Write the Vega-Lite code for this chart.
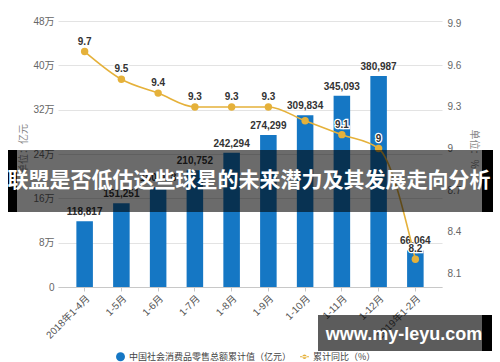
{
  "$schema": "https://vega.github.io/schema/vega-lite/v6.json",
  "autosize": {"type": "none"},
  "width": 384,
  "height": 277,
  "padding": {"left": 58, "top": 10, "right": 58, "bottom": 75},
  "background": "white",
  "config": {
    "view": {"stroke": null},
    "font": "Liberation Sans, Noto Sans CJK SC",
    "axis": {"labelFont": "Liberation Sans, Noto Sans CJK SC", "titleFont": "Noto Sans CJK SC"}
  },
  "data": {
    "values": [
      {"period": "2018年1-4月", "total": 118817, "rate": 9.7},
      {"period": "1-5月", "total": 151251, "rate": 9.5},
      {"period": "1-6月", "total": 180018, "rate": 9.4},
      {"period": "1-7月", "total": 210752, "rate": 9.3},
      {"period": "1-8月", "total": 242294, "rate": 9.3},
      {"period": "1-9月", "total": 274299, "rate": 9.3},
      {"period": "1-10月", "total": 309834, "rate": 9.2},
      {"period": "1-11月", "total": 345093, "rate": 9.1},
      {"period": "1-12月", "total": 380987, "rate": 9.0},
      {"period": "2019年1-2月", "total": 66064, "rate": 8.2}
    ]
  },
  "encoding": {
    "x": {
      "field": "period", "type": "nominal", "sort": null,
      "scale": {"paddingInner": 0.55, "paddingOuter": 0.5},
      "axis": {
        "title": null, "labelAngle": -45, "labelFontSize": 10, "labelColor": "#555",
        "domainColor": "#c8c8c8", "tickColor": "#c8c8c8", "tickSize": 4, "labelPadding": 2
      }
    }
  },
  "layer": [
    {
      "layer": [
        {
          "mark": {"type": "bar", "color": "#1577C4"},
          "encoding": {
            "y": {
              "field": "total", "type": "quantitative",
              "scale": {"domain": [0, 480000]},
              "axis": {
                "values": [0, 80000, 160000, 240000, 320000, 400000, 480000],
                "labelExpr": "datum.value == 0 ? '0' : (datum.value / 10000) + '万'",
                "title": "单位：亿元", "titleFontSize": 10, "titleFontWeight": "normal", "titleColor": "#888",
                "titlePadding": 4, "labelFontSize": 10, "labelColor": "#666", "labelPadding": 4,
                "domain": false, "ticks": false, "gridColor": "#e3e3e3"
              }
            },
            "color": {
              "datum": "中国社会消费品零售总额累计值（亿元）",
              "scale": {"domain": ["中国社会消费品零售总额累计值（亿元）", "累计同比（%）"], "range": ["#1577C4", "#E5B13A"]},
              "legend": {
                "orient": "none", "legendX": 58, "legendY": 342, "direction": "horizontal", "title": null,
                "labelFontSize": 9, "labelColor": "#444", "labelFont": "Noto Sans CJK SC", "labelLimit": 400,
                "symbolSize": 80, "columnPadding": 8, "symbolStrokeWidth": 0,
                "encode": {"symbols": {"update": {"shape": {"signal": "datum.label == '累计同比（%）' ? 'M-1,-0.12H1V0.12H-1Z M0,-0.5A0.5,0.5 0 1,0 0,0.5A0.5,0.5 0 1,0 0,-0.5Z' : 'circle'"}}}}
              }
            }
          }
        },
        {
          "mark": {"type": "text", "baseline": "bottom", "dy": -4, "fontSize": 10, "fontWeight": "bold", "color": "#333", "font": "Liberation Sans"},
          "encoding": {
            "y": {"field": "total", "type": "quantitative"},
            "text": {"field": "total", "type": "quantitative", "format": ",d"}
          }
        }
      ]
    },
    {
      "layer": [
        {
          "mark": {"type": "line", "color": "#E5B13A", "strokeWidth": 1.6, "interpolate": "monotone"},
          "encoding": {
            "y": {
              "field": "rate", "type": "quantitative",
              "scale": {"domain": [8.1, 9.9]},
              "axis": {
                "orient": "right", "values": [8.1, 8.4, 8.7, 9.0, 9.3, 9.6, 9.9],
                "labelExpr": "format(datum.value, '.1~f')",
                "title": "单位：%", "titleFontSize": 10, "titleFontWeight": "normal", "titleColor": "#888",
                "titleAngle": 90, "titlePadding": 8, "labelFontSize": 10, "labelColor": "#666", "labelPadding": 5,
                "domain": false, "ticks": false, "grid": false
              }
            }
          }
        },
        {
          "mark": {"type": "point", "filled": true, "color": "#E5B13A", "size": 55, "opacity": 1},
          "encoding": {"y": {"field": "rate", "type": "quantitative"}}
        },
        {
          "transform": [{"filter": "datum.period != '1-10月'"}],
          "mark": {"type": "text", "baseline": "bottom", "dy": -5, "fontSize": 10, "fontWeight": "bold", "fill": "#333", "stroke": "white", "strokeWidth": 2.5, "font": "Liberation Sans"},
          "encoding": {
            "y": {"field": "rate", "type": "quantitative"},
            "text": {"field": "rate", "type": "quantitative", "format": ".1~f"}
          }
        },
        {
          "transform": [{"filter": "datum.period != '1-10月'"}],
          "mark": {"type": "text", "baseline": "bottom", "dy": -5, "fontSize": 10, "fontWeight": "bold", "fill": "#333", "font": "Liberation Sans"},
          "encoding": {
            "y": {"field": "rate", "type": "quantitative"},
            "text": {"field": "rate", "type": "quantitative", "format": ".1~f"}
          }
        }
      ]
    },
    {
      "data": {"values": [{}]},
      "layer": [
        {"mark": {"type": "rect", "fill": "black", "opacity": 0.58}, "encoding": {"x": {"value": -41}, "x2": {"value": 424}, "y": {"value": 140}, "y2": {"value": 202}}},
        {"mark": {"type": "rect", "fill": "black"}, "encoding": {"x": {"value": -50}, "x2": {"value": -41}, "y": {"value": 140}, "y2": {"value": 202}}},
        {"mark": {"type": "rect", "fill": "black"}, "encoding": {"x": {"value": 424}, "x2": {"value": 435}, "y": {"value": 140}, "y2": {"value": 202}}},
        {"mark": {"type": "text", "text": "联盟是否低估这些球星的未来潜力及其发展走向分析", "font": "Noto Sans CJK SC", "fontWeight": "bold", "fontSize": 21, "color": "white", "align": "center", "baseline": "middle"}, "encoding": {"x": {"value": 191}, "y": {"value": 171}}},
        {"mark": {"type": "rect", "fill": "black", "opacity": 0.64}, "encoding": {"x": {"value": 260}, "x2": {"value": 424}, "y": {"value": 305}, "y2": {"value": 341}}},
        {"mark": {"type": "rect", "fill": "black"}, "encoding": {"x": {"value": 424}, "x2": {"value": 434}, "y": {"value": 305}, "y2": {"value": 341}}},
        {"mark": {"type": "text", "text": "www.my-leyu.com", "font": "Liberation Sans", "fontWeight": "bold", "fontSize": 18, "color": "white", "align": "center", "baseline": "middle"}, "encoding": {"x": {"value": 346}, "y": {"value": 325}}}
      ]
    }
  ],
  "resolve": {"scale": {"y": "independent"}}
}
